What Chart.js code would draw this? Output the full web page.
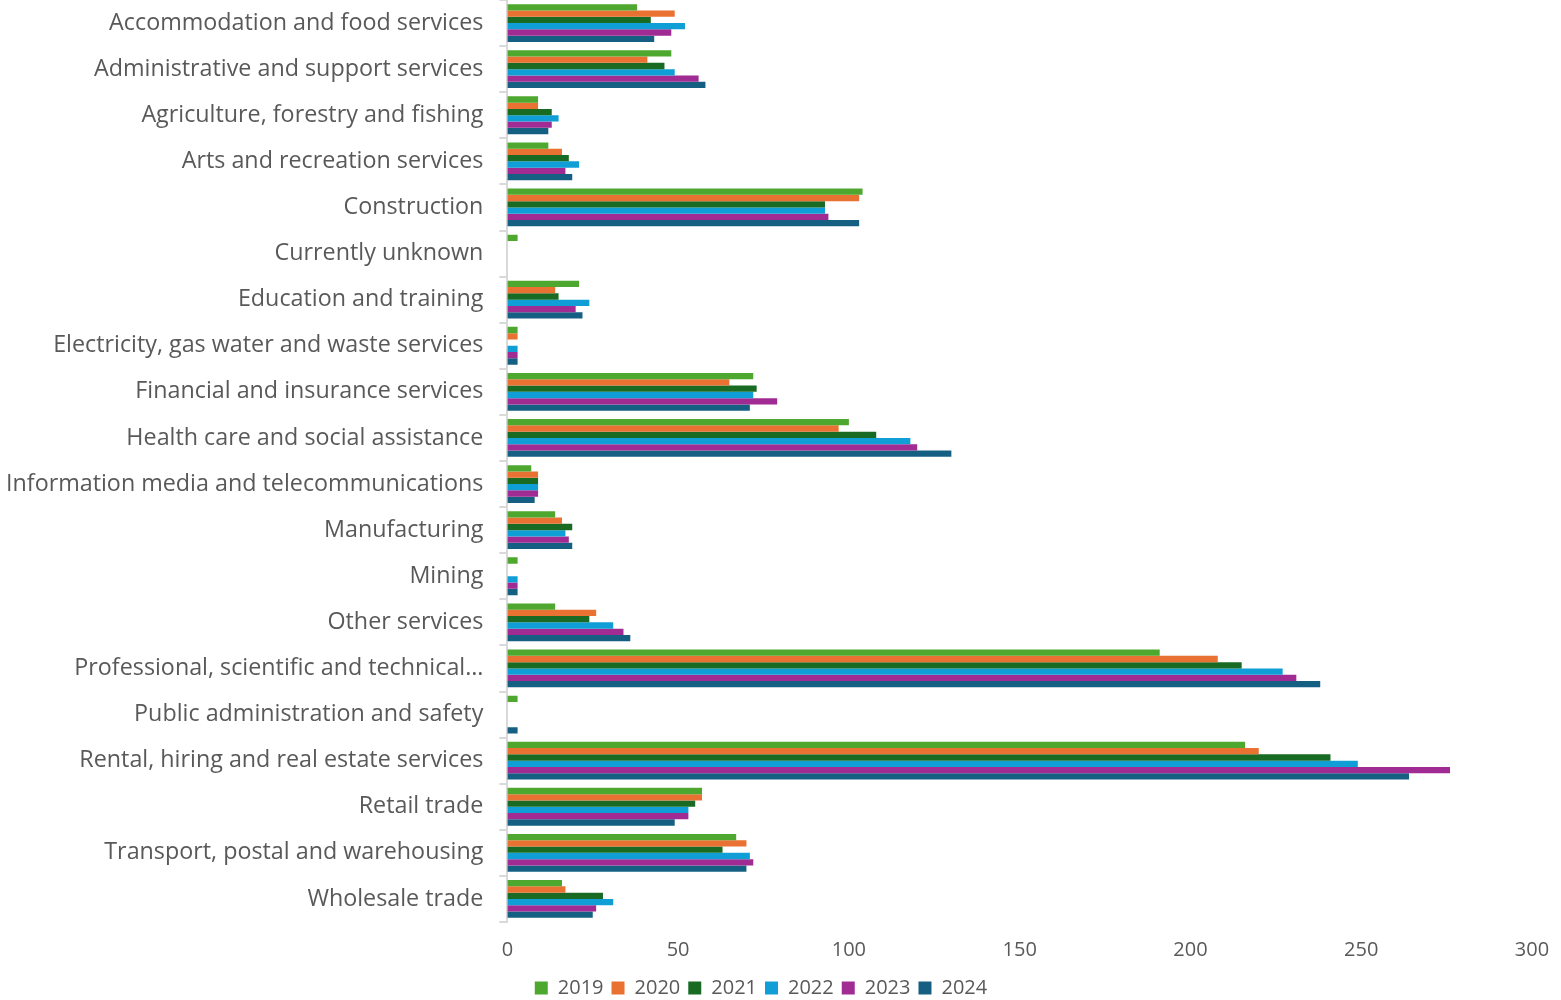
<!DOCTYPE html>
<html>
<head>
<meta charset="utf-8">
<script src="https://cdn.jsdelivr.net/npm/chart.js@4.4.1/dist/chart.umd.min.js"></script>
<style>
    body { margin: 0; background: #fff; }
    #wrap { width: 1561px; height: 1000px; }
</style>
</head>
<body>
<div id="wrap"><canvas id="industryChart" width="1561" height="1000"></canvas></div>
<script>
// Categories and yearly counts
const industries = [
    'Accommodation and food services',
    'Administrative and support services',
    'Agriculture, forestry and fishing',
    'Arts and recreation services',
    'Construction',
    'Currently unknown',
    'Education and training',
    'Electricity, gas water and waste services',
    'Financial and insurance services',
    'Health care and social assistance',
    'Information media and telecommunications',
    'Manufacturing',
    'Mining',
    'Other services',
    'Professional, scientific and technical…',
    'Public administration and safety',
    'Rental, hiring and real estate services',
    'Retail trade',
    'Transport, postal and warehousing',
    'Wholesale trade'
];

const years = ['2019', '2020', '2021', '2022', '2023', '2024'];

const v2019 = [38, 48, 9, 12, 104, 3, 21, 3, 72, 100, 7, 14, 3, 14, 191, 3, 216, 57, 67, 16];
const v2020 = [49, 41, 9, 16, 103, 0, 14, 3, 65, 97, 9, 16, 0, 26, 208, 0, 220, 57, 70, 17];
const v2021 = [42, 46, 13, 18, 93, 0, 15, 0, 73, 108, 9, 19, 0, 24, 215, 0, 241, 55, 63, 28];
const v2022 = [52, 49, 15, 21, 93, 0, 24, 3, 72, 118, 9, 17, 3, 31, 227, 0, 249, 53, 71, 31];
const v2023 = [48, 56, 13, 17, 94, 0, 20, 3, 79, 120, 9, 18, 3, 34, 231, 0, 276, 53, 72, 26];
const v2024 = [43, 58, 12, 19, 103, 0, 22, 3, 71, 130, 8, 19, 3, 36, 238, 3, 264, 49, 70, 25];

const xTicks = [0, 50, 100, 150, 200, 250, 300];

const seriesValues = [v2019, v2020, v2021, v2022, v2023, v2024];
const seriesColors = ['#4EA72E', '#E97132', '#196B24', '#0F9ED5', '#A02B93', '#156082'];

const textGrey = '#595959';
const fontFamily = "'Open Sans', sans-serif";

new Chart(document.getElementById('industryChart'), {
    type: 'bar',
    data: {
        labels: industries,
        datasets: years.map((yr, i) => ({
            label: yr,
            data: seriesValues[i],
            backgroundColor: seriesColors[i],
            borderWidth: 0,
            barPercentage: 1,
            categoryPercentage: 0.82
        }))
    },
    options: {
        indexAxis: 'y',
        responsive: false,
        animation: false,
        layout: { padding: { top: 0, right: 29, left: -10, bottom: -8 } },
        scales: {
            x: {
                min: 0,
                max: 300,
                afterBuildTicks: axis => { axis.ticks = xTicks.map(v => ({ value: v })); },
                grid: { display: false },
                border: { display: false },
                ticks: { color: textGrey, font: { family: fontFamily, size: 20 }, padding: 8 }
            },
            y: {
                // categories fill the full height, no label overhang at the top
                afterFit: scale => { scale.paddingTop = 0; scale.paddingBottom = 0; },
                grid: { offset: true, drawOnChartArea: false, tickLength: 8, color: '#D9D9D9', lineWidth: 2 },
                border: { color: '#D9D9D9', width: 2 },
                ticks: { color: textGrey, font: { family: fontFamily, size: 23.3 }, padding: 16, autoSkip: false }
            }
        },
        plugins: {
            legend: {
                position: 'bottom',
                labels: {
                    color: textGrey,
                    font: { family: fontFamily, size: 20 },
                    boxWidth: 13,
                    boxHeight: 13,
                    padding: 8
                }
            },
            tooltip: { enabled: false }
        }
    }
});
</script>
</body>
</html>
